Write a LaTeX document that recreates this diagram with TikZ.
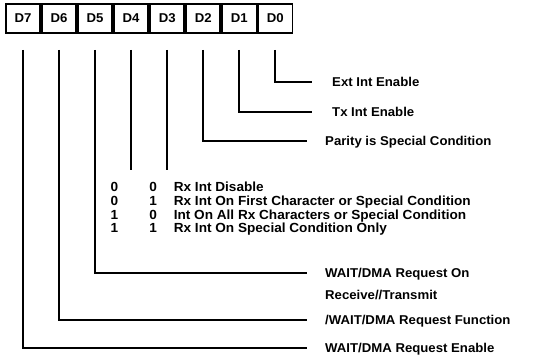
\documentclass[tikz,border=0pt]{standalone}
\usepackage{fontspec}
\setmainfont[FakeStretch=1.03]{Liberation Sans Bold}
\usetikzlibrary{positioning}
\tikzset{
  bit/.style={draw, line width=1.8pt, minimum width=34.25pt, minimum height=29pt, inner sep=0pt},
  wire/.style={line width=2pt},
  lbl/.style={anchor=west, inner sep=0pt, text height=9.2pt, text depth=0pt},
}
\newcommand{\txtsize}{\fontsize{12.8}{22}\selectfont}

\begin{document}
\begin{tikzpicture}[x=1pt, y=-1pt, font=\txtsize]
\useasboundingbox (0,0) rectangle (534,361);
% register bits
\node[bit] (d7) at (23,18.5) {D7};
\node[bit, right=0pt of d7] (d6) {D6};
\node[bit, right=0pt of d6] (d5) {D5};
\node[bit, right=0pt of d5] (d4) {D4};
\node[bit, right=0pt of d4] (d3) {D3};
\node[bit, right=0pt of d3] (d2) {D2};
\node[bit, right=0pt of d2] (d1) {D1};
\node[bit, right=0pt of d1] (d0) {D0};
% labels
\node[lbl] (ext) at (332,82) {Ext Int Enable};
\node[lbl] (tx) at (332,112) {Tx Int Enable};
\node[lbl] (par) at (325,141) {Parity is Special Condition};
\node[anchor=north west, inner sep=0pt, align=left] (wreq) at (325,268.4) {WAIT/DMA Request On\\Receive//Transmit};
\node[lbl] (wfun) at (325,320) {/WAIT/DMA Request Function};
\node[lbl] (wen) at (325,348) {WAIT/DMA Request Enable};
\node[anchor=north west, inner sep=0pt, font=\fontsize{13.2}{13.7}\selectfont] (rxtab) at (110.5,182) {\begin{tabular}{@{}c@{\hspace{31pt}}c@{\hspace{17pt}}l@{}}
0 & 0 & Rx Int Disable\\
0 & 1 & Rx Int On First Character or Special Condition\\
1 & 0 & Int On All Rx Characters or Special Condition\\
1 & 1 & Rx Int On Special Condition Only
\end{tabular}};
% connectors
\draw[wire] ([yshift=-16pt]d0.south) |- ([xshift=-20pt]ext.west);
\draw[wire] ([yshift=-16pt]d1.south) |- ([xshift=-20pt]tx.west);
\draw[wire] ([yshift=-16pt]d2.south) |- ([xshift=-18pt]par.west);
\draw[wire] ([yshift=-16pt]d3.south) -- ([yshift=12pt]rxtab.north -| d3.south);
\draw[wire] ([yshift=-16pt]d4.south) -- ([yshift=12pt]rxtab.north -| d4.south);
\draw[wire] ([yshift=-16pt]d5.south) |- ([xshift=-18pt,yshift=-4.6pt]wreq.north west);
\draw[wire] ([yshift=-16pt]d6.south) |- ([xshift=-18pt]wfun.west);
\draw[wire] ([yshift=-16pt]d7.south) |- ([xshift=-18pt]wen.west);
\end{tikzpicture}
\end{document}
